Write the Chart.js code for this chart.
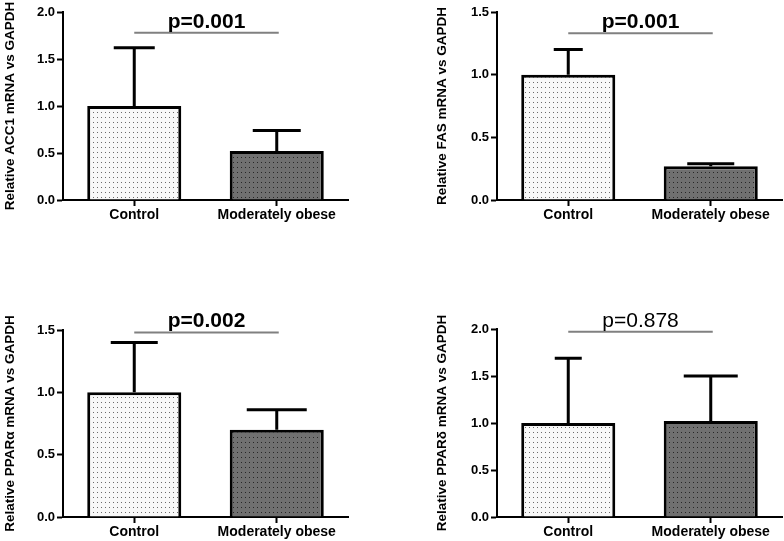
<!DOCTYPE html>
<html lang="en">
<head>
<meta charset="UTF-8">
<title>Relative mRNA vs GAPDH</title>
<script src="https://cdn.jsdelivr.net/npm/chart.js"></script>
<style>
    body { margin: 0; width: 784px; height: 541px; background: #fff; position: relative; overflow: hidden; }
    canvas { position: absolute; }
</style>
</head>
<body>
<canvas id="acc1" width="392" height="225" style="left:0;top:0"></canvas>
<canvas id="fas" width="352" height="225" style="left:432px;top:0"></canvas>
<canvas id="ppara" width="392" height="241" style="left:0;top:300px"></canvas>
<canvas id="ppard" width="352" height="241" style="left:432px;top:300px"></canvas>

<script>
    const FONT = 'Arial, "Liberation Sans", sans-serif';

    // groups
    const categories = ['Control', 'Moderately obese'];

    // means and SD (upper error bar) per panel
    const acc1Mean = [1.00, 0.52];
    const acc1Sd = [0.62, 0.22];
    const fasMean = [1.00, 0.27];
    const fasSd = [0.20, 0.02];
    const pparaMean = [1.00, 0.70];
    const pparaSd = [0.40, 0.16];
    const ppardMean = [1.00, 1.02];
    const ppardSd = [0.69, 0.48];

    // y axis ranges
    const acc1Max = 2.0, fasMax = 1.5, pparaMax = 1.5, ppardMax = 2.0;

    // p values and the level of the bracket line
    const pLabels = ['p=0.001', 'p=0.001', 'p=0.002', 'p=0.878'];
    const pLineAt = [1.78, 1.33, 1.48, 1.97];

    function dotPattern(bg, dot) {
        const c = document.createElement('canvas');
        c.width = 4; c.height = 5;
        const g = c.getContext('2d');
        g.fillStyle = bg;
        g.fillRect(0, 0, 4, 5);
        g.fillStyle = dot;
        g.fillRect(1, 2, 1, 1);
        return g.createPattern(c, 'repeat');
    }
    const lightFill = dotPattern('#f8f8f8', '#6a6a6a');
    const darkFill = dotPattern('#707070', '#262626');

    // error bars + significance bracket, drawn through the chart's scales
    function overlay(sd, caps, pText, lineAt, bold) {
        return {
            id: 'overlay',
            afterDatasetsDraw(chart) {
                const ctx = chart.ctx, xs = chart.scales.x, ys = chart.scales.y;
                const vals = chart.data.datasets[0].data;
                ctx.save();
                ctx.strokeStyle = '#000';
                ctx.lineWidth = 3;
                vals.forEach((v, i) => {
                    const cx = xs.getPixelForValue(i);
                    const base = ys.getPixelForValue(v);
                    const top = ys.getPixelForValue(v + sd[i]);
                    ctx.beginPath();
                    ctx.moveTo(cx, base);
                    ctx.lineTo(cx, top);
                    ctx.moveTo(cx - caps[i] / 2, top);
                    ctx.lineTo(cx + caps[i] / 2, top);
                    ctx.stroke();
                });
                const x0 = xs.getPixelForValue(0), x1 = xs.getPixelForValue(1) + 2;
                const yl = ys.getPixelForValue(lineAt);
                ctx.strokeStyle = '#808080';
                ctx.lineWidth = 2;
                ctx.beginPath();
                ctx.moveTo(x0, yl);
                ctx.lineTo(x1, yl);
                ctx.stroke();
                ctx.fillStyle = '#000';
                ctx.font = (bold ? 'bold ' : '') + '21px ' + FONT;
                ctx.textAlign = 'center';
                ctx.textBaseline = 'alphabetic';
                ctx.fillText(pText, (x0 + x1) / 2, yl - 5);
                ctx.restore();
            }
        };
    }

    function makeChart(id, means, sd, caps, yMax, yTitle, pText, lineAt, bold, axisW, padTop, padRight, xH) {
        new Chart(document.getElementById(id), {
            type: 'bar',
            data: {
                labels: categories,
                datasets: [{
                    data: means,
                    backgroundColor: [lightFill, darkFill],
                    borderColor: '#000',
                    borderWidth: 3,
                    barPercentage: 0.66,
                    categoryPercentage: 1
                }]
            },
            options: {
                responsive: false,
                animation: false,
                layout: { padding: { left: 0, top: padTop, right: padRight, bottom: 0 } },
                plugins: { legend: { display: false }, tooltip: { enabled: false } },
                scales: {
                    x: {
                        grid: { drawOnChartArea: false, offset: false, tickLength: 6, tickWidth: 2, tickColor: '#000' },
                        border: { color: '#000', width: 2 },
                        ticks: { color: '#000', padding: 1, font: { family: FONT, size: 14, weight: 'bold' } },
                        afterFit: s => { s.height = xH; }
                    },
                    y: {
                        min: 0,
                        max: yMax,
                        ticks: {
                            stepSize: 0.5,
                            color: '#000',
                            padding: 2,
                            font: { family: FONT, size: 13, weight: 'bold' },
                            callback: v => v.toFixed(1)
                        },
                        grid: { drawOnChartArea: false, tickLength: 6, tickWidth: 2, tickColor: '#000' },
                        border: { color: '#000', width: 2 },
                        title: {
                            display: true,
                            text: yTitle,
                            color: '#000',
                            padding: { top: 2, bottom: 0 },
                            font: { family: FONT, size: 13.5, weight: 'bold' }
                        },
                        afterFit: s => { s.width = axisW; }
                    }
                }
            },
            plugins: [overlay(sd, caps, pText, lineAt, bold)]
        });
    }

    makeChart('acc1', acc1Mean, acc1Sd, [41, 48], acc1Max, 'Relative ACC1 mRNA vs GAPDH', pLabels[0], pLineAt[0], true, 63, 12, 44, 25);
    makeChart('fas', fasMean, fasSd, [29, 47], fasMax, 'Relative FAS mRNA vs GAPDH', pLabels[1], pLineAt[1], true, 65, 12, 2, 25);
    makeChart('ppara', pparaMean, pparaSd, [47, 60], pparaMax, 'Relative PPAR\u03b1 mRNA vs GAPDH', pLabels[2], pLineAt[2], true, 63, 30, 44, 24);
    makeChart('ppard', ppardMean, ppardSd, [27, 54], ppardMax, 'Relative PPAR\u03b4 mRNA vs GAPDH', pLabels[3], pLineAt[3], false, 65, 29, 2, 24);
</script>
</body>
</html>
